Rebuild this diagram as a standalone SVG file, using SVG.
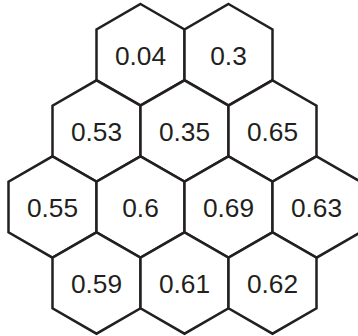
<svg xmlns="http://www.w3.org/2000/svg" xmlns:xlink="http://www.w3.org/1999/xlink" width="358" height="336" viewBox="0 0 358 336">
<style>
.hex{fill:#ffffff;stroke:#231f20;stroke-width:2.5;stroke-linejoin:miter}
.lbl{font-family:"Liberation Sans",Arial,sans-serif;font-size:26.3px;fill:#231f20;text-anchor:middle}
</style>
<defs>
<polygon id="hexshape" points="0,-50.7 44,-25.35 44,25.35 0,50.7 -44,25.35 -44,-25.35"/>
</defs>
<rect width="358" height="336" fill="#ffffff"/>
<g id="connectors"/>
<g id="n004" transform="translate(140.5,54.7)"><use xlink:href="#hexshape" class="hex"/><text class="lbl" y="10.3">0.04</text></g>
<g id="n03" transform="translate(228.5,54.7)"><use xlink:href="#hexshape" class="hex"/><text class="lbl" y="10.3">0.3</text></g>
<g id="n053" transform="translate(96.5,131)"><use xlink:href="#hexshape" class="hex"/><text class="lbl" y="10.3">0.53</text></g>
<g id="n035" transform="translate(184.5,131)"><use xlink:href="#hexshape" class="hex"/><text class="lbl" y="10.3">0.35</text></g>
<g id="n065" transform="translate(272.5,131)"><use xlink:href="#hexshape" class="hex"/><text class="lbl" y="10.3">0.65</text></g>
<g id="n055" transform="translate(52.5,207)"><use xlink:href="#hexshape" class="hex"/><text class="lbl" y="10.3">0.55</text></g>
<g id="n06" transform="translate(140.5,207)"><use xlink:href="#hexshape" class="hex"/><text class="lbl" y="10.3">0.6</text></g>
<g id="n069" transform="translate(228.5,207)"><use xlink:href="#hexshape" class="hex"/><text class="lbl" y="10.3">0.69</text></g>
<g id="n063" transform="translate(316.5,207)"><use xlink:href="#hexshape" class="hex"/><text class="lbl" y="10.3">0.63</text></g>
<g id="n059" transform="translate(96.5,283)"><use xlink:href="#hexshape" class="hex"/><text class="lbl" y="10.3">0.59</text></g>
<g id="n061" transform="translate(184.5,283)"><use xlink:href="#hexshape" class="hex"/><text class="lbl" y="10.3">0.61</text></g>
<g id="n062" transform="translate(272.5,283)"><use xlink:href="#hexshape" class="hex"/><text class="lbl" y="10.3">0.62</text></g>
</svg>
